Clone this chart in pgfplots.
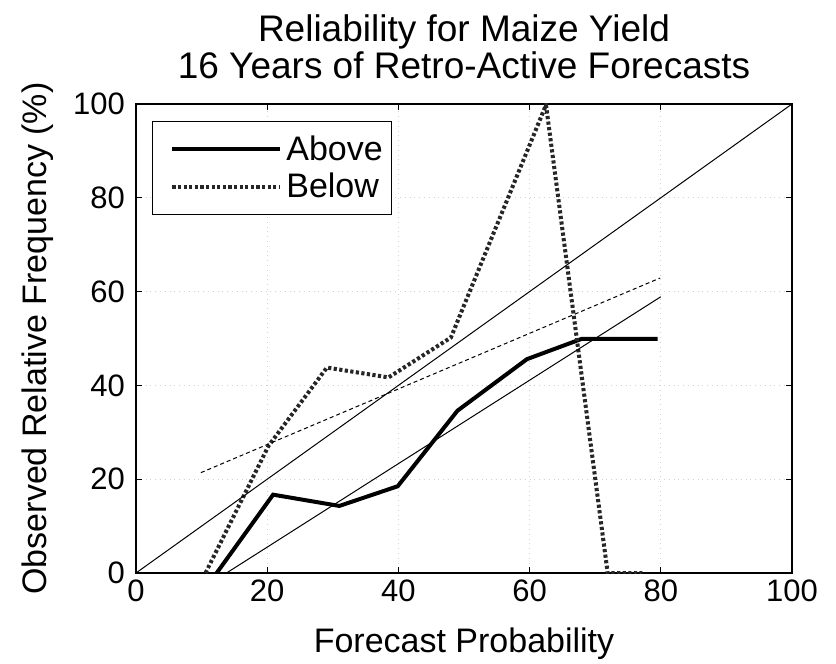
\documentclass[border=0pt]{standalone}
\usepackage{pgfplots}
\pgfplotsset{compat=1.18}
\usepackage{fontspec}
\setmainfont{Liberation Sans}
\usetikzlibrary{calc}
\begin{document}
\begin{tikzpicture}
\begin{axis}[
  scale only axis,
  width=328pt, height=234.5pt,
  xmin=0, xmax=100, ymin=0, ymax=100,
  xtick={0,20,40,60,80,100}, ytick={0,20,40,60,80,100},
  tick align=inside, xtick pos=both, ytick pos=both,
  major tick length=3pt,
  grid=major,
  major grid style={gray!35, dotted, line width=0.5pt},
  axis line style={line width=0.6pt},
  tick style={line width=0.6pt, black},
  /pgf/number format/assume math mode=true,
  ticklabel style={font=\fontsize{15.5}{17}\selectfont},
  yticklabel style={xshift=-2pt},
  label style={font=\fontsize{17}{19}\selectfont},
  title style={font=\fontsize{18.5}{18.5}\selectfont, align=center, yshift=3pt},
  title={Reliability for Maize Yield\\16 Years of Retro-Active Forecasts},
  xlabel={Forecast Probability},
  ylabel={Observed Relative Frequency (\%)},
  xlabel style={yshift=-6pt},
  ylabel style={yshift=3pt},
  legend style={at={(rel axis cs:0.024,0.964)}, anchor=north west,
    font=\fontsize{17}{19}\selectfont, draw=black, line width=0.6pt,
    row sep=1pt, inner xsep=2.5pt, inner ysep=5pt,
    /tikz/every even column/.append style={column sep=4.5pt}},
  legend cell align=left,
  legend image code/.code={\path (0pt,0pt); \draw[#1] (6.5pt,0pt) -- (60.5pt,0pt);},
]
\addplot[black, line width=2pt] coordinates {
  (12.3,0) (20.9,16.7) (31.0,14.3) (39.9,18.5) (49.0,34.6) (59.6,45.6) (67.9,49.9) (79.5,49.9)
};
\addlegendentry{Above}
\addplot[black!85, line width=2pt, dash pattern=on 1.6pt off 1.2pt] coordinates {
  (10.6,0) (20.2,27.1) (29.1,43.8) (38.5,41.7) (48.0,50.2) (62.5,99.8) (71.9,0) (77.2,0)
};
\addlegendentry{Below}
\addplot[black, line width=0.5pt, forget plot] coordinates {(0,0) (100,100)};
\addplot[black, line width=0.5pt, forget plot] coordinates {(13.8,0) (80,58.9)};
\addplot[black, line width=0.5pt, dash pattern=on 2pt off 1.5pt, forget plot] coordinates {(9.9,21.4) (79.9,62.9)};
\end{axis}
\pgfresetboundingbox
\path[use as bounding box] ($(current axis.south west)+(-68pt,-45.5pt)$) rectangle ($(current axis.north east)+(22pt,52pt)$);
\end{tikzpicture}
\end{document}
